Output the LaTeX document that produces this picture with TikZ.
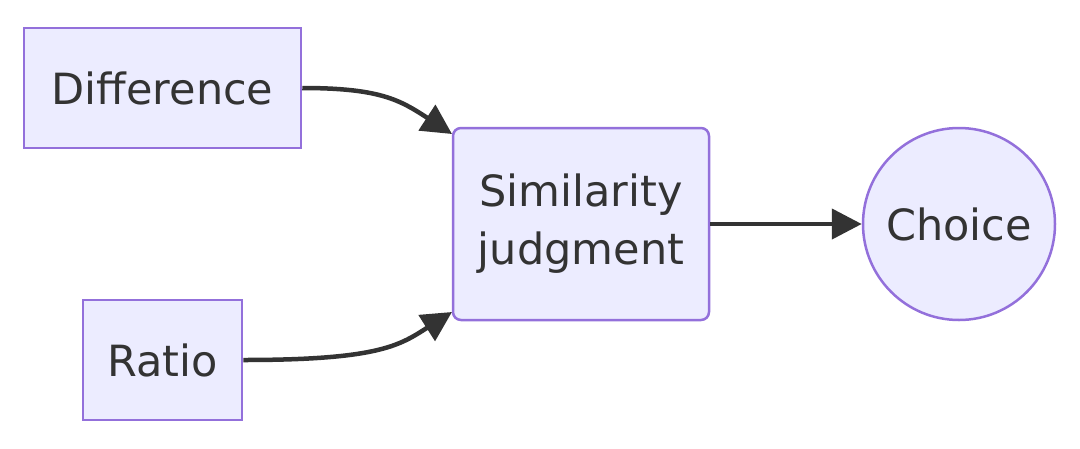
\documentclass[tikz,border=0pt]{standalone}
\usepackage{fontspec}
\setmainfont{DejaVu Sans}
\usetikzlibrary{arrows.meta}
\definecolor{nf}{HTML}{ECECFF}
\definecolor{ns}{HTML}{9370DB}
\definecolor{ln}{HTML}{333333}
\begin{document}
\begin{tikzpicture}[x=1pt,y=-1pt,
 box/.style={draw=ns,fill=nf,line width=2.5pt,inner sep=0pt,text=ln,font=\fontsize{43}{58}\selectfont,align=center},
 edge/.style={draw=ln,line width=4.5pt,-{Triangle[length=30pt,width=30pt]}}]
\useasboundingbox (0,0) rectangle (1080,448);
\node[box,minimum width=277pt,minimum height=120pt] (d) at (162.5,88) {Difference};
\node[box,minimum width=159pt,minimum height=120pt] (r) at (162.5,360) {Ratio};
\node[box,rounded corners=8pt,minimum width=256pt,minimum height=192pt] (s) at (581,224) {Similarity\\judgment};
\node[box,circle,minimum size=192pt] (c) at (959,224) {Choice};
\draw[edge] (d.east) .. controls (380,88) and (400,100) .. (452,134);
\draw[edge] (r.east) .. controls (380,360) and (400,345) .. (452,312);
\draw[edge] (s.east) -- (c.west);
\end{tikzpicture}
\end{document}
